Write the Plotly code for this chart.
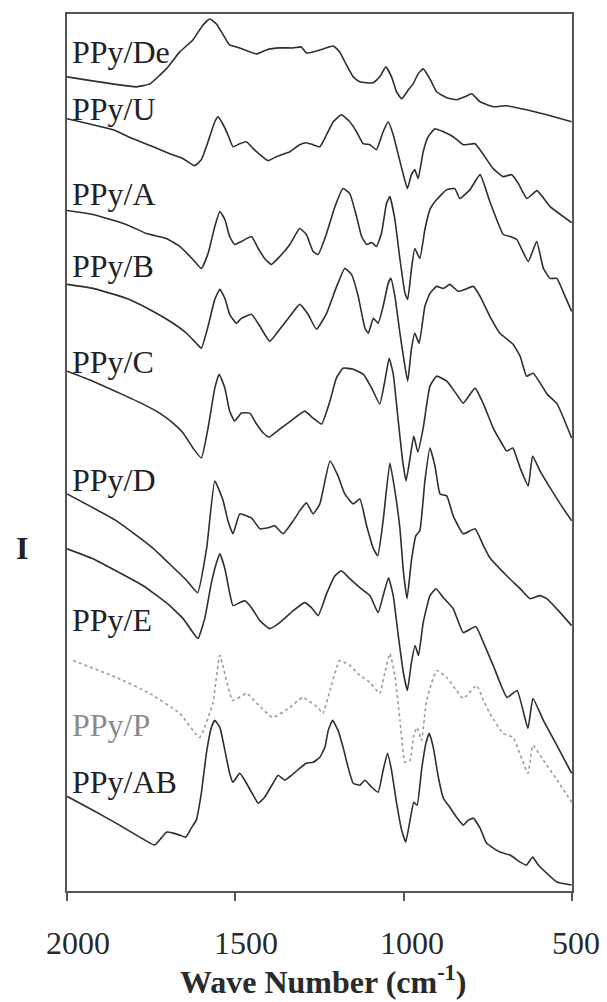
import plotly.graph_objects as go

# FTIR spectra of polypyrrole samples, stacked with vertical offsets (a.u.)
de_wn = [2000, 1794, 1754, 1705, 1665, 1626, 1596, 1576, 1556, 1536, 1517, 1487, 1437, 1408, 1368, 1328, 1304, 1289, 1269, 1239, 1209, 1190, 1170, 1150, 1130, 1091, 1071, 1053, 1036, 1021, 1006, 986, 972, 957, 942, 922, 902, 872, 843, 818, 798, 773, 734, 694, 635, 575, 501]
de_i = [816, 806, 809, 824, 841, 853, 868, 874, 869, 858, 848, 845, 839, 843, 845, 845, 846, 840, 841, 844, 847, 841, 828, 816, 811, 810, 816, 826, 816, 801, 794, 803, 809, 819, 824, 814, 801, 795, 793, 796, 799, 791, 786, 787, 783, 778, 771]

u_wn = [2000, 1923, 1863, 1804, 1744, 1695, 1655, 1621, 1601, 1581, 1561, 1551, 1536, 1522, 1507, 1487, 1467, 1447, 1427, 1403, 1378, 1338, 1309, 1289, 1269, 1249, 1229, 1209, 1185, 1160, 1140, 1120, 1100, 1081, 1061, 1046, 1031, 1016, 1001, 989, 977, 967, 957, 942, 927, 907, 882, 853, 823, 788, 763, 734, 704, 679, 659, 634, 604, 565, 501]
u_i = [774, 768, 763, 754, 746, 739, 734, 727, 733, 751, 771, 776, 768, 758, 746, 749, 751, 744, 738, 732, 736, 741, 748, 750, 748, 746, 758, 771, 778, 771, 761, 749, 748, 743, 761, 771, 758, 738, 718, 704, 718, 723, 714, 741, 756, 764, 761, 756, 748, 749, 738, 724, 716, 718, 709, 694, 702, 686, 670]

a_wn = [2000, 1923, 1824, 1764, 1705, 1665, 1626, 1601, 1581, 1561, 1546, 1531, 1517, 1502, 1482, 1452, 1432, 1413, 1393, 1368, 1338, 1309, 1289, 1269, 1254, 1229, 1204, 1180, 1160, 1140, 1125, 1110, 1095, 1081, 1066, 1051, 1041, 1026, 1011, 996, 988, 977, 967, 952, 937, 922, 902, 872, 848, 833, 803, 773, 744, 704, 684, 664, 630, 605, 585, 565, 545, 527, 501]
a_i = [682, 678, 668, 659, 654, 646, 633, 624, 639, 666, 681, 673, 656, 648, 651, 656, 644, 634, 628, 636, 648, 664, 658, 641, 638, 659, 686, 704, 699, 676, 656, 648, 650, 646, 659, 689, 696, 673, 633, 599, 593, 623, 644, 634, 663, 683, 693, 703, 704, 694, 703, 718, 691, 658, 656, 653, 631, 651, 624, 614, 614, 601, 581]

b_wn = [2000, 1923, 1824, 1745, 1685, 1645, 1616, 1601, 1581, 1561, 1546, 1531, 1517, 1497, 1482, 1452, 1427, 1398, 1368, 1338, 1309, 1284, 1259, 1229, 1199, 1175, 1155, 1135, 1115, 1105, 1090, 1076, 1061, 1046, 1038, 1026, 1011, 1001, 988, 977, 967, 954, 937, 922, 902, 882, 863, 838, 818, 793, 773, 744, 714, 675, 654, 635, 615, 574, 544, 501]
b_i = [608, 604, 594, 581, 569, 559, 549, 544, 566, 593, 603, 594, 578, 569, 574, 578, 566, 551, 563, 576, 588, 578, 563, 579, 606, 624, 618, 596, 564, 559, 574, 569, 586, 609, 614, 596, 559, 536, 511, 543, 559, 549, 586, 599, 606, 604, 608, 601, 603, 606, 596, 576, 559, 548, 536, 516, 519, 498, 488, 454]

c_wn = [2000, 1923, 1844, 1774, 1725, 1685, 1655, 1626, 1601, 1581, 1561, 1548, 1531, 1517, 1502, 1482, 1457, 1437, 1417, 1400, 1368, 1328, 1294, 1269, 1244, 1219, 1200, 1180, 1150, 1120, 1095, 1071, 1056, 1043, 1031, 1016, 1003, 993, 981, 970, 958, 942, 922, 902, 872, 843, 823, 788, 763, 734, 709, 694, 676, 654, 630, 617, 595, 565, 535, 501]
c_i = [521, 511, 499, 488, 479, 469, 459, 444, 434, 464, 504, 518, 504, 481, 471, 479, 479, 468, 459, 455, 463, 473, 481, 474, 468, 491, 514, 524, 523, 518, 504, 488, 511, 534, 518, 471, 431, 411, 434, 456, 440, 464, 506, 516, 511, 498, 489, 504, 488, 464, 449, 441, 444, 424, 406, 436, 421, 404, 388, 371]

d_wn = [2000, 1853, 1746, 1644, 1612, 1585, 1561, 1536, 1522, 1507, 1487, 1467, 1452, 1427, 1403, 1383, 1358, 1328, 1309, 1289, 1269, 1249, 1219, 1195, 1175, 1150, 1130, 1110, 1090, 1077, 1061, 1041, 1026, 1011, 1001, 990, 977, 964, 952, 937, 922, 907, 892, 872, 853, 823, 788, 763, 744, 694, 654, 625, 595, 575, 535, 501]
d_i = [398, 371, 344, 311, 299, 344, 411, 391, 371, 358, 378, 376, 374, 363, 364, 366, 358, 371, 381, 389, 378, 388, 431, 416, 398, 388, 393, 366, 343, 336, 371, 429, 401, 363, 321, 293, 331, 356, 361, 411, 444, 426, 398, 396, 376, 358, 363, 346, 334, 316, 303, 293, 296, 293, 279, 266]

e_wn = [2000, 1923, 1844, 1774, 1705, 1655, 1626, 1611, 1591, 1571, 1556, 1546, 1531, 1517, 1507, 1487, 1472, 1452, 1427, 1398, 1368, 1328, 1294, 1274, 1254, 1229, 1204, 1185, 1160, 1130, 1100, 1076, 1061, 1045, 1031, 1016, 1001, 989, 977, 966, 956, 942, 922, 904, 882, 853, 823, 786, 763, 734, 693, 663, 631, 616, 585, 545, 501]
e_i = [343, 333, 319, 306, 289, 273, 259, 253, 273, 309, 329, 338, 323, 299, 286, 289, 291, 284, 271, 263, 269, 281, 289, 284, 276, 298, 316, 321, 313, 304, 296, 279, 296, 314, 296, 256, 219, 201, 229, 246, 236, 269, 296, 303, 294, 283, 259, 265, 249, 226, 194, 201, 163, 193, 171, 146, 118]

p_wn = [1982, 1853, 1754, 1665, 1606, 1567, 1546, 1508, 1466, 1436, 1389, 1338, 1300, 1255, 1240, 1219, 1190, 1160, 1130, 1100, 1071, 1056, 1041, 1026, 1011, 996, 981, 970, 960, 947, 932, 902, 872, 843, 823, 783, 763, 744, 705, 675, 631, 616, 585, 544, 501]
p_i = [231, 214, 198, 178, 154, 188, 236, 191, 198, 188, 174, 184, 194, 184, 178, 201, 231, 226, 216, 209, 198, 219, 238, 216, 171, 129, 131, 156, 164, 151, 191, 221, 214, 201, 193, 206, 191, 178, 158, 154, 118, 146, 131, 111, 89]

ab_wn = [2000, 1923, 1844, 1784, 1740, 1720, 1705, 1685, 1665, 1647, 1631, 1616, 1601, 1586, 1571, 1561, 1546, 1531, 1517, 1507, 1487, 1472, 1452, 1432, 1413, 1388, 1373, 1353, 1333, 1309, 1289, 1269, 1249, 1234, 1224, 1211, 1195, 1180, 1165, 1150, 1130, 1115, 1095, 1076, 1061, 1048, 1036, 1021, 1006, 994, 981, 970, 960, 947, 934, 924, 912, 897, 882, 863, 843, 823, 808, 793, 773, 754, 734, 714, 684, 654, 635, 617, 600, 545, 501]
ab_i = [95, 81, 66, 54, 46, 53, 59, 58, 56, 54, 63, 71, 98, 138, 164, 171, 164, 141, 118, 109, 118, 111, 99, 88, 94, 108, 116, 111, 116, 123, 128, 129, 134, 144, 161, 171, 161, 144, 124, 108, 106, 111, 104, 99, 121, 138, 121, 88, 61, 49, 71, 89, 86, 121, 148, 158, 144, 114, 93, 84, 74, 66, 71, 73, 63, 48, 43, 39, 36, 29, 26, 34, 26, 9, 6]

names = ["PPy/De", "PPy/U", "PPy/A", "PPy/B", "PPy/C", "PPy/D", "PPy/E", "PPy/P", "PPy/AB"]
label_i = [841, 784, 699, 626, 530, 412, 272, 166, 109]
tick_vals = [2000, 1500, 1000, 500]

series = [(de_wn, de_i), (u_wn, u_i), (a_wn, a_i), (b_wn, b_i), (c_wn, c_i),
          (d_wn, d_i), (e_wn, e_i), (p_wn, p_i), (ab_wn, ab_i)]

SERIF = "Liberation Serif, Times New Roman, serif"
INK = "#2e2e2e"
GREY = "#9a9a9a"

fig = go.Figure()
for name, (wn, inten) in zip(names, series):
    faded = name == "PPy/P"
    fig.add_trace(go.Scatter(
        x=wn, y=inten, mode="lines", name=name,
        line=dict(color=GREY if faded else INK, width=1.6,
                  dash="dot" if faded else "solid",
                  shape="spline", smoothing=0.4),
        hoverinfo="skip",
    ))

for name, yi in zip(names, label_i):
    fig.add_annotation(
        x=1992, y=yi, xref="x", yref="y", text=name, showarrow=False,
        xanchor="left", yanchor="middle",
        font=dict(family=SERIF, size=32, color="#8a8a8a" if name == "PPy/P" else "#222"),
    )

# tick labels sit a little right of their tick marks
label_nudge = [11, 11, 8, 4]
for v, dx in zip(tick_vals, label_nudge):
    fig.add_annotation(
        x=v, xref="x", y=(891 - 943) / 879, yref="paper", xshift=dx,
        text=str(v), showarrow=False, xanchor="center", yanchor="middle",
        font=dict(family=SERIF, size=32, color="#2a2a2a"),
    )

# axis titles
fig.add_annotation(
    x=0.5, xref="paper", y=(891 - 980) / 879, yref="paper", xshift=3,
    text="<b>Wave Number (cm<sup>-1</sup>)</b>", showarrow=False,
    xanchor="center", yanchor="middle",
    font=dict(family=SERIF, size=32, color="#2a2a2a"),
)
fig.add_annotation(
    x=(22 - 67) / 505, y=(891 - 547) / 879, xref="paper", yref="paper",
    xanchor="center", yanchor="middle", text="<b>I</b>", showarrow=False,
    font=dict(family=SERIF, size=32, color="#222"),
)

fig.update_layout(
    width=607, height=1002,
    margin=dict(l=67, r=35, t=12, b=111),
    paper_bgcolor="white", plot_bgcolor="white",
    showlegend=False,
    xaxis=dict(
        range=[2000, 500], tickvals=tick_vals, showticklabels=False,
        ticks="outside", ticklen=8, tickwidth=1.5, tickcolor="#555",
        showline=True, linecolor="#555", linewidth=1.5, mirror=True,
        showgrid=False, zeroline=False,
    ),
    yaxis=dict(
        range=[0, 879], showticklabels=False, ticks="",
        showline=True, linecolor="#555", linewidth=1.5, mirror=True,
        showgrid=False, zeroline=False,
    ),
)

fig.write_html("out.html")
